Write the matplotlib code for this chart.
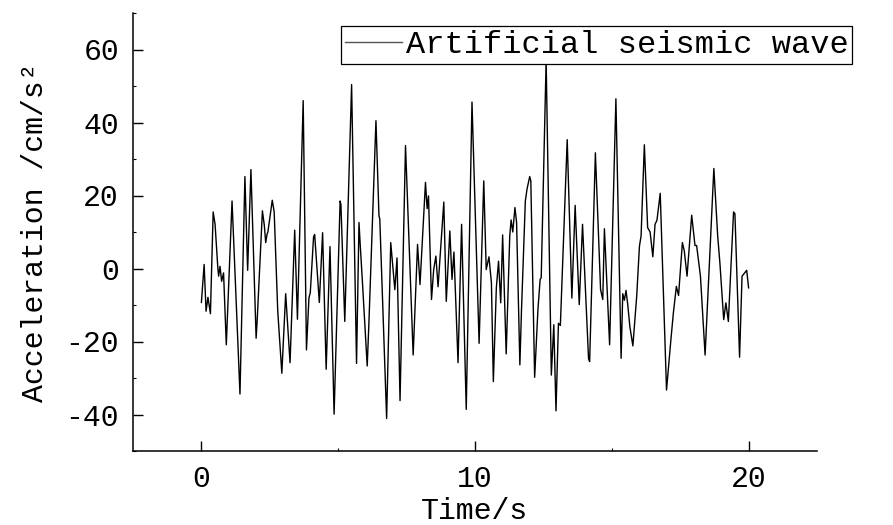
import matplotlib
matplotlib.use("Agg")
import matplotlib.pyplot as plt
from matplotlib.ticker import MultipleLocator

plt.rcParams['font.family'] = ['Liberation Mono', 'DejaVu Sans Mono']
plt.rcParams['axes.unicode_minus'] = False

# Digitized waveform (time in s, acceleration in cm/s^2)
time_s = [0.00, 0.10, 0.17, 0.24, 0.33, 0.43, 0.50, 0.60, 0.63, 0.68, 0.74, 0.81, 0.91,
          1.12, 1.41, 1.59, 1.69, 1.81, 2.00, 2.04, 2.23, 2.30, 2.35, 2.40, 2.43, 2.59,
          2.66, 2.79, 2.94, 3.08, 3.24, 3.41, 3.51, 3.72, 3.84, 3.93, 3.98, 4.10, 4.14,
          4.31, 4.43, 4.56, 4.70, 4.85, 5.07, 5.10, 5.24, 5.49, 5.67, 5.76, 5.80, 5.88,
          6.06, 6.12, 6.38, 6.49, 6.52, 6.77, 6.92, 7.07, 7.15, 7.26, 7.46, 7.74, 7.90,
          7.99, 8.19, 8.25, 8.30, 8.41, 8.49, 8.57, 8.65, 8.86, 8.95, 9.08, 9.16, 9.23,
          9.38, 9.51, 9.68, 9.89, 10.15, 10.32, 10.41, 10.51, 10.60, 10.67, 10.78, 10.86,
          10.94, 11.01, 11.14, 11.27, 11.32, 11.38, 11.46, 11.52, 11.64, 11.70, 11.84,
          11.90, 12.00, 12.04, 12.18, 12.30, 12.38, 12.42, 12.60, 12.79, 12.88, 12.96,
          13.05, 13.12, 13.37, 13.54, 13.66, 13.81, 13.93, 14.15, 14.19, 14.40, 14.59,
          14.67, 14.73, 14.92, 15.15, 15.34, 15.40, 15.46, 15.52, 15.58, 15.66, 15.77,
          15.91, 16.01, 16.07, 16.19, 16.31, 16.40, 16.50, 16.58, 16.65, 16.77, 17.00,
          17.16, 17.25, 17.36, 17.44, 17.58, 17.65, 17.75, 17.92, 18.04, 18.10, 18.24,
          18.41, 18.73, 18.87, 18.95, 19.09, 19.17, 19.26, 19.45, 19.50, 19.67, 19.76,
          19.93, 20.00]
accel = [-9.3, 1.1, -11.7, -7.9, -12.4, 15.5, 12.1, 0.2, -2.1, 0.6, -3.5, -1.2, -20.9,
         18.5, -34.4, 25.2, -0.5, 27.1, -19.1, -14.0, 15.8, 11.8, 7.1, 9.4, 10.0, 18.7,
         15.5, -11.6, -28.7, -6.9, -25.8, 10.5, -13.9, 46.0, -22.3, -8.1, -6.6, 8.7, 9.3,
         -9.3, 9.8, -27.6, 6.0, -39.9, 18.5, 17.5, -14.5, 50.4, -26.0, 12.6, 7.1, -3.0,
         -26.7, -15.4, 40.5, 14.4, 13.6, -41.1, 7.1, -5.8, 2.9, -36.2, 33.7, -23.7, 6.6,
         -4.4, 23.6, 16.4, 19.9, -8.5, -0.3, 3.4, -5.0, 18.2, -9.0, 10.3, -3.0, 4.5,
         -25.8, 12.1, -38.6, 45.6, -20.5, 24.0, -0.3, 3.2, -3.9, -31.0, -5.3, 2.0,
         -9.4, 9.2, -23.4, 8.9, 13.3, 10.0, 16.7, 12.6, -26.4, -11.3, 18.5,
         21.7, 25.2, 24.0, -29.8, -11.3, -3.0, -2.5, 57.0, -29.2, -15.4, -39.0,
         -15.0, -15.6, 35.3, -8.1, 17.3, -9.9, 12.1, -24.7, -25.5, 31.7, -5.8,
         -8.5, 10.9, -20.9, 46.5, -24.6, -6.9, -8.7, -6.0, -9.7, -15.9, -21.2,
         -7.6, 6.1, 8.9, 33.9, 11.2, 10.0, 3.2, 12.1, 13.2, 20.6, -33.3,
         -19.5, -12.2, -4.9, -7.4, 7.1, 4.8, -2.1, 14.6, 6.3, 6.3, -2.1,
         -23.7, 27.4, 8.9, 1.6, -14.0, -9.4, -14.5, 15.5, 15.0, -24.3, -2.1,
         -0.5, -5.3]

x_ticks = [0, 10, 20]
y_ticks = [-40, -20, 0, 20, 40, 60]
series_label = "Artificial seismic wave"

fig = plt.figure(figsize=(8.93, 5.25), dpi=100)
ax = fig.add_axes([133/893, 1-451/525, (817-133)/893, (451-13)/525])

ax.plot(time_s, accel, color='black', linewidth=1.0, label=series_label)

ax.set_xlim(-2.5, 22.5)
ax.set_ylim(-50, 70)
ax.set_xticks(x_ticks)
ax.set_yticks(y_ticks)
ax.xaxis.set_minor_locator(MultipleLocator(5))
ax.yaxis.set_minor_locator(MultipleLocator(10))

for s in ['top', 'right']:
    ax.spines[s].set_visible(False)
for s in ['left', 'bottom']:
    ax.spines[s].set_linewidth(1.1)

ax.tick_params(axis='both', which='major', direction='in', length=7, width=1.0,
               labelsize=21.5, pad=10)
ax.tick_params(axis='both', which='minor', direction='in', length=2, width=0.8)

ax.set_xlabel("Time/s", fontsize=21.5, labelpad=3)
ax.set_ylabel("Acceleration /cm/s\u00b2", fontsize=21.5, labelpad=12)

leg = fig.legend(loc='upper left', bbox_to_anchor=(341/893, 1-26/525),
                 bbox_transform=fig.transFigure, fontsize=23, frameon=True,
                 fancybox=False, borderaxespad=0, borderpad=0.12,
                 handlelength=1.8, handletextpad=0.1, framealpha=1)
leg.get_frame().set_edgecolor('black')
leg.get_frame().set_linewidth(0.9)
for line in leg.get_lines():
    line.set_color('#555555')
    line.set_linewidth(1.0)

fig.savefig("out.png", dpi=100)
